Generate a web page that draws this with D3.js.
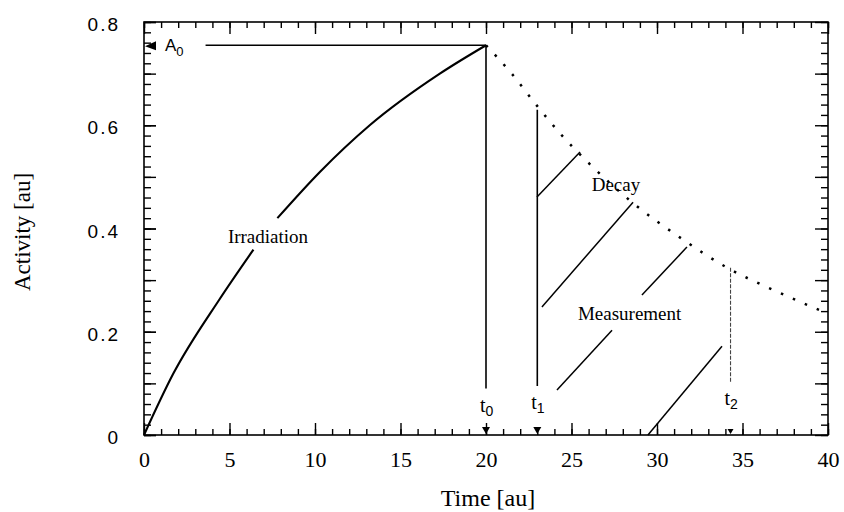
<!DOCTYPE html>
<html>
<head>
<meta charset="utf-8">
<script src="https://cdn.jsdelivr.net/npm/d3@7"></script>
<style>
  body { margin: 0; background: #fff; }
  svg { display: block; }
  .serif { font-family: "Liberation Serif", "Times New Roman", serif; }
  .sans { font-family: "Liberation Sans", Arial, sans-serif; }
</style>
</head>
<body>
<svg id="chart" width="844" height="512"></svg>
<script>
// values: time [au], activity [au]
const irrTimeLow = [0, 1.7, 4.4, 6.4];
const irrActLow = [0, 0.118, 0.262, 0.359];
const irrTimeHigh = [7.8, 10.3, 13.2, 17.3, 20];
const irrActHigh = [0.420, 0.510, 0.600, 0.700, 0.755];

const decayTime = [20, 21.5, 23, 24.5, 26, 28.5, 31.5, 34, 37, 39.5];
const decayAct = [0.755, 0.700, 0.637, 0.578, 0.527, 0.452, 0.379, 0.326, 0.278, 0.242];

const a0Value = 0.755;
const a0Start = 3.6;

// t0, t1, t2 lines
const markTime = [20, 23, 34.3];
const markTop = [0.755, 0.630, 0.324];
const markBottom = [0.09, 0.095, 0.103];
const markIndex = ["0", "1", "2"];

// hatching segments (start / end)
const hatchT1 = [22.98, 23.27, 24.15, 29.12, 29.47];
const hatchA1 = [0.461, 0.248, 0.087, 0.271, 0];
const hatchT2 = [25.5, 28.6, 27.37, 31.75, 33.8];
const hatchA2 = [0.548, 0.451, 0.203, 0.364, 0.172];

const xTickLabels = [0, 5, 10, 15, 20, 25, 30, 35, 40];
const yTickLabels = ["0", "0.2", "0.4", "0.6", "0.8"];

const plotLeft = 144, plotRight = 828, plotTop = 22, plotBottom = 435;

const svg = d3.select("#chart");

const x = d3.scaleLinear().domain([0, 40]).range([plotLeft, plotRight]);
const y = d3.scaleLinear().domain([0, 0.8]).range([plotBottom, plotTop]);

// ticks, all pointing inward
function ticks(axis, transform, vals, len, labels) {
  const g = svg.append("g")
    .attr("transform", transform)
    .call(axis.tickValues(vals).tickSize(len).tickSizeOuter(0));
  g.select(".domain").remove();
  g.selectAll(".tick line").attr("stroke", "#000").attr("stroke-width", 1.4);
  if (!labels) g.selectAll(".tick text").remove();
  return g;
}

const minorX = d3.range(0, 41, 1);
const majorX = d3.range(0, 41, 5);
const minorY = d3.range(0, 41, 1).map(d => d * 0.02);
const majorY = d3.range(0, 9, 1).map(d => d * 0.1);

ticks(d3.axisBottom(x), `translate(0,${plotBottom})`, minorX, -6, false);
ticks(d3.axisTop(x), `translate(0,${plotTop})`, minorX, -6, false);
ticks(d3.axisTop(x), `translate(0,${plotTop})`, majorX, -12, false);
ticks(d3.axisLeft(y), `translate(${plotLeft},0)`, minorY, -7, false);
ticks(d3.axisLeft(y), `translate(${plotLeft},0)`, majorY, -12, false);
ticks(d3.axisRight(y), `translate(${plotRight},0)`, minorY, -7, false);
ticks(d3.axisRight(y), `translate(${plotRight},0)`, majorY, -13, false);

const gx = ticks(d3.axisBottom(x).tickPadding(16).tickFormat(d3.format("d")),
  `translate(0,${plotBottom})`, xTickLabels, -12, true);
gx.selectAll(".tick text")
  .attr("class", "serif")
  .style("font-size", "22px")
  .attr("fill", "#000");

const gy = ticks(d3.axisLeft(y).tickPadding(24).tickFormat((d, i) => yTickLabels[i]),
  `translate(${plotLeft},0)`, [0, 0.2, 0.4, 0.6, 0.8], -12, true);
gy.selectAll(".tick text")
  .attr("class", "sans")
  .style("font-size", "19px")
  .style("letter-spacing", "2px")
  .attr("dy", "0.45em")
  .attr("fill", "#000");

// frame
svg.append("rect")
  .attr("x", x(0)).attr("y", y(0.8))
  .attr("width", x(40) - x(0)).attr("height", y(0) - y(0.8))
  .attr("fill", "none").attr("stroke", "#000").attr("stroke-width", 1.6);

// axis titles
svg.append("text").attr("class", "serif")
  .attr("x", 488).attr("y", 506)
  .attr("text-anchor", "middle").style("font-size", "24px")
  .text("Time [au]");

svg.append("text").attr("class", "serif")
  .attr("transform", "translate(30,232) rotate(-90)")
  .attr("text-anchor", "middle").style("font-size", "23px")
  .text("Activity [au]");

const line = d3.line().x(d => x(d[0])).y(d => y(d[1])).curve(d3.curveMonotoneX);

// irradiation curve, broken by its label
[[irrTimeLow, irrActLow], [irrTimeHigh, irrActHigh]].forEach(([ts, as]) => {
  svg.append("path")
    .attr("d", line(ts.map((t, i) => [t, as[i]])))
    .attr("fill", "none").attr("stroke", "#000").attr("stroke-width", 2.1);
});

// decay curve, dotted
svg.append("path")
  .attr("d", line(decayTime.map((t, i) => [t, decayAct[i]])))
  .attr("fill", "none").attr("stroke", "#000")
  .attr("stroke-width", 2.5).attr("stroke-dasharray", "2.5 10.5");

// A0 level
svg.append("line")
  .attr("x1", x(a0Start)).attr("x2", x(20))
  .attr("y1", y(a0Value)).attr("y2", y(a0Value))
  .attr("stroke", "#000").attr("stroke-width", 1.6);

svg.append("path")
  .attr("d", `M${x(0) + 1},${y(a0Value) + 1} L${x(0) + 12},${y(a0Value) - 4} L${x(0) + 12},${y(a0Value) + 5} Z`)
  .attr("fill", "#000");

const a0Text = svg.append("text").attr("class", "sans")
  .attr("x", x(0) + 21).attr("y", y(a0Value) + 6)
  .style("font-size", "17px").text("A");
a0Text.append("tspan").attr("dy", 5).style("font-size", "13px").text("0");

// vertical t lines
markTime.forEach((t, i) => {
  svg.append("line")
    .attr("x1", x(t)).attr("x2", x(t))
    .attr("y1", y(markTop[i])).attr("y2", y(markBottom[i]))
    .attr("stroke", i === 2 ? "#444" : "#000")
    .attr("stroke-width", i === 2 ? 1.1 : 1.6)
    .attr("stroke-dasharray", i === 2 ? "4 1.5" : null);

  const s = i === 2 ? 3 : 4;
  svg.append("path")
    .attr("d", `M${x(t) - s},${y(0) - 2 * s} L${x(t) + s},${y(0) - 2 * s} L${x(t)},${y(0) - 1} Z`)
    .attr("fill", "#000");

  const lab = svg.append("text").attr("class", "serif")
    .attr("x", x(t) - 6).attr("y", y(markBottom[i]) + 23)
    .style("font-size", "20px").text("t");
  lab.append("tspan").attr("class", "sans").attr("dy", 4)
    .style("font-size", "14px").text(markIndex[i]);
});

// hatching of the measured part
hatchT1.forEach((t, i) => {
  svg.append("line")
    .attr("x1", x(t)).attr("y1", y(hatchA1[i]))
    .attr("x2", x(hatchT2[i])).attr("y2", y(hatchA2[i]))
    .attr("stroke", "#000").attr("stroke-width", 1.5);
});

// labels
function label(txt, t, a) {
  svg.append("text").attr("class", "serif")
    .attr("x", x(t)).attr("y", y(a)).attr("dy", "0.35em")
    .attr("text-anchor", "middle").style("font-size", "19px")
    .text(txt);
}
label("Irradiation", 7.25, 0.384);
label("Decay", 27.6, 0.486);
label("Measurement", 28.4, 0.236);
</script>
</body>
</html>
